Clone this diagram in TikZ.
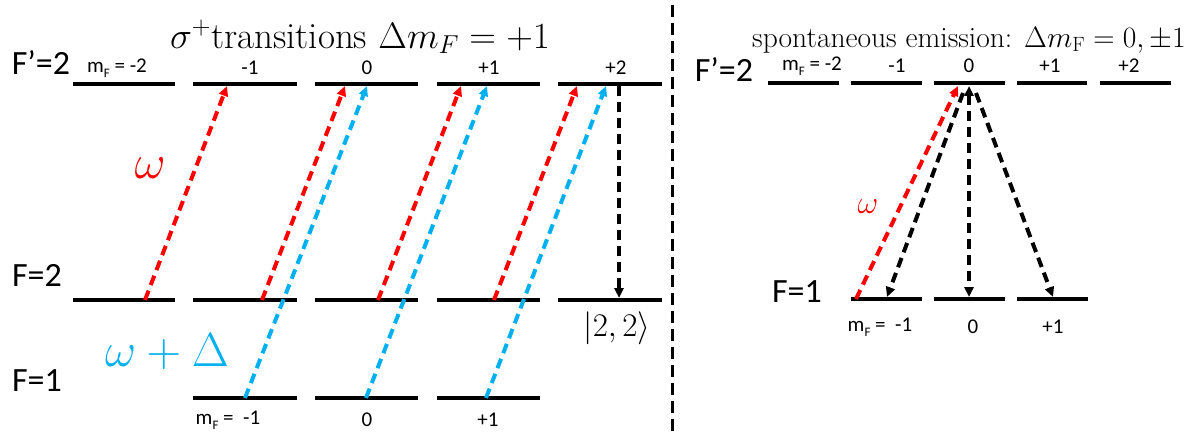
\RequirePackage{fix-cm}
\documentclass[tikz,border=0pt]{standalone}
\usepackage{fontspec}
\usetikzlibrary{arrows.meta}
\newfontfamily\calib{Carlito}
\definecolor{myred}{HTML}{FF0000}
\definecolor{myblue}{HTML}{00B0F0}
\newcommand\mysub[1]{\raisebox{-0.45ex}{\fontsize{13}{13}\selectfont #1}}
\begin{document}
\begin{tikzpicture}[x=1pt,y=-1pt,
  level/.style={line width=4pt},
  trans/.style={line width=4pt, dash pattern=on 10pt off 6pt, -{Triangle[length=10pt,width=9pt]}},
  redtr/.style={trans, draw=myred},
  bluetr/.style={trans, draw=myblue},
  blacktr/.style={trans, draw=black},
  lbl/.style={font=\calib\fontsize{34}{34}\selectfont, inner sep=0pt},
  mlbl/.style={font=\calib\fontsize{21}{21}\selectfont, inner sep=0pt},
  divider/.style={line width=3pt, dash pattern=on 12pt off 6pt},
]
\useasboundingbox (0,0) rectangle (1197,433);

% ---------- left panel levels ----------
\foreach \a/\b [count=\i] in {73/175,193/297,315/418,437/540,558/662}{
  \draw[level] (\a,84) -- (\b,84);
  \draw[level] (\a,300) -- (\b,300);
}
\foreach \a/\b in {193/297,315/418,437/540}{
  \draw[level] (\a,398) -- (\b,398);
}

% labels
\node[lbl] (lFp) at (41,63) {F’=2};
\node[lbl] (lF2) at (37,275) {F=2};
\node[lbl] (lF1) at (37,381) {F=1};

\node[mlbl] (lt1) at (117,68) {m\mysub{F} = -2};
\node[mlbl] (lt2) at (250,68) {-1};
\node[mlbl] (lt3) at (367,68) {0};
\node[mlbl] (lt4) at (489,68) {+1};
\node[mlbl] (lt5) at (616,68) {+2};

\node[mlbl] (lb1) at (228,420) {m\mysub{F} =\ \ -1};
\node[mlbl] (lb2) at (367,420) {0};
\node[mlbl] (lb3) at (488,420) {+1};

\node[inner sep=0pt, font=\fontsize{37}{37}\selectfont] (ltitle) at (360,37)
  {$\sigma^+$transitions $\Delta m_F=+1$};

\node[inner sep=0pt, text=myred, font=\fontsize{48}{48}\selectfont] (lomega) at (150,168) {$\omega$};
\node[inner sep=0pt, text=myblue, font=\fontsize{48}{48}\selectfont] (lomd) at (167,352) {$\omega+\Delta$};
\node[inner sep=0pt, font=\fontsize{33}{33}\selectfont] (k22) at (617,328) {$|2,2\rangle$};

% arrow end points
\coordinate (r1s) at (145,300); \coordinate (r1e) at (227,86);
\coordinate (r2s) at (262,300); \coordinate (r2e) at (345,86);
\coordinate (r3s) at (378,300); \coordinate (r3e) at (461,86);
\coordinate (r4s) at (494,300); \coordinate (r4e) at (577,86);
\coordinate (b1s) at (245,398); \coordinate (b1e) at (367,86);
\coordinate (b2s) at (366,398); \coordinate (b2e) at (487,86);
\coordinate (b3s) at (486,398); \coordinate (b3e) at (606,86);
\coordinate (d1s) at (619,86);  \coordinate (d1e) at (619,298);

\foreach \n in {1,...,4}{ \draw[redtr] (r\n s) -- (r\n e); }
\foreach \n in {1,...,3}{ \draw[bluetr] (b\n s) -- (b\n e); }
\draw[blacktr] (d1s) -- (d1e);

% divider
\coordinate (dvt) at (672,5); \coordinate (dvb) at (672,433);
\draw[divider] (dvt) -- (dvb);

% ---------- right panel ----------
\foreach \a/\b in {768/839,851/922,934/1005,1017/1087,1100/1171}{
  \draw[level] (\a,83) -- (\b,83);
}
\foreach \a/\b in {851/922,934/1005,1017/1088}{
  \draw[level] (\a,299) -- (\b,299);
}
\node[inner sep=0pt, font=\fontsize{29.5}{29.5}\selectfont] (rtitle) at (969,40)
  {spontaneous emission: $\Delta m_{\mathrm{F}}=0,\pm1$};
\node[lbl] (rFp) at (724,70) {F’=2};
\node[lbl] (rF1) at (797,292) {F=1};

\node[mlbl] (rt1) at (812,66) {m\mysub{F} = -2};
\node[mlbl] (rt2) at (897,66) {-1};
\node[mlbl] (rt3) at (969,66) {0};
\node[mlbl] (rt4) at (1050,66) {+1};
\node[mlbl] (rt5) at (1129,66) {+2};

\node[mlbl] (rb1) at (880,327) {m\mysub{F} =\ \ -1};
\node[mlbl] (rb2) at (973,327) {0};
\node[mlbl] (rb3) at (1053,327) {+1};

\node[inner sep=0pt, text=myred, font=\fontsize{32}{32}\selectfont] (romega) at (868,207) {$\omega$};

\coordinate (rrs) at (856,299); \coordinate (rre) at (958,86);
\coordinate (top0) at (969,86);
\coordinate (tl) at (963,93); \coordinate (el) at (887,297);
\coordinate (em) at (969,297);
\coordinate (tr) at (976,93); \coordinate (er) at (1053,297);

\draw[redtr] (rrs) -- (rre);
\draw[blacktr] (tl) -- (el);
\draw[blacktr, {Triangle[length=10pt,width=9pt]}-{Triangle[length=10pt,width=9pt]}] (top0) -- (em);
\draw[blacktr] (tr) -- (er);
\end{tikzpicture}
\end{document}
